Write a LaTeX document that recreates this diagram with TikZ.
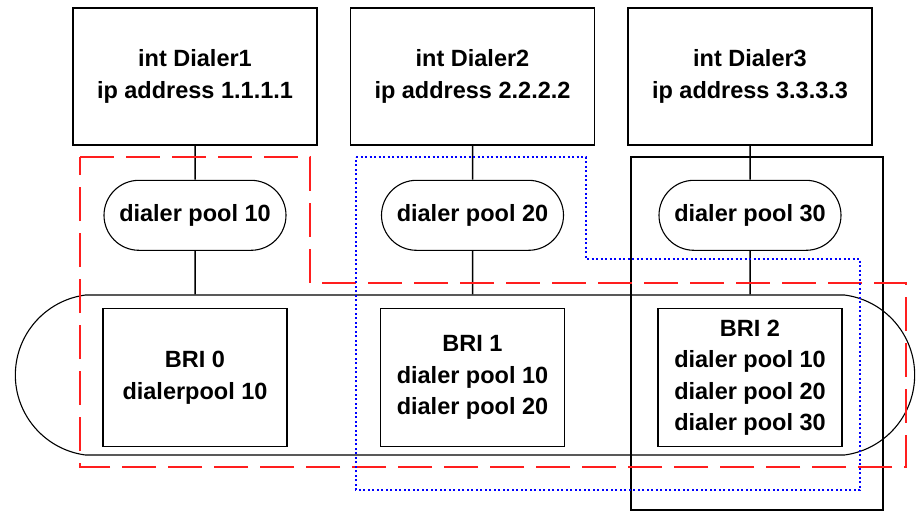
\documentclass[tikz,border=0pt]{standalone}
\usepackage{fontspec}
\setmainfont{Liberation Sans}
\usetikzlibrary{shapes.misc, positioning}
\definecolor{redgroup}{RGB}{255, 30, 30}
\definecolor{bluegroup}{RGB}{0, 0, 255}

\begin{document}
\begin{tikzpicture}[x=1pt, y=-1pt,
    every node/.style={font=\fontsize{23.5}{31.5}\selectfont\bfseries, align=center},
    dialer/.style={draw, line width=1.5pt, minimum width=244pt, minimum height=137pt},
    pool/.style={draw, line width=1.1pt, rounded rectangle, minimum width=186pt, minimum height=70pt, inner sep=2pt},
    bri/.style={draw, line width=1.5pt, minimum width=184pt, minimum height=138pt},
    bus/.style={draw, line width=1.1pt, rounded rectangle, rounded rectangle arc length=165, minimum width=906pt, minimum height=160pt},
    link/.style={line width=1.5pt}]
                    \useasboundingbox (0,0) rectangle (919,512);
                    \node[dialer] (d1) at (195,76.5) {int Dialer1\\ip address 1.1.1.1};
                    \node[dialer, right=32pt of d1] (d2) {int Dialer2\\ip address 2.2.2.2};
                    \node[dialer, right=32pt of d2] (d3) {int Dialer3\\ip address 3.3.3.3};
                    \node[pool, below=34pt of d1] (p1) {dialer pool 10};
                    \node[pool, below=34pt of d2] (p2) {dialer pool 20};
                    \node[pool, below=34pt of d3] (p3) {dialer pool 30};
                    \node[bus] (bus) at (465,375) {};
                    \node[bri, below=57pt of p1] (b1) {BRI 0\\dialerpool 10};
                    \node[bri, below=57pt of p2] (b2) {BRI 1\\dialer pool 10\\dialer pool 20};
                    \node[bri, below=57pt of p3] (b3) {BRI 2\\dialer pool 10\\dialer pool 20\\dialer pool 30};
                    \foreach \i in {1,2,3} {
                        \draw[link] (d\i) -- (p\i);
                        \draw[link] (p\i) -- (p\i |- bus.north);
                    }
                    \draw[link] (631,157) rectangle (883,510);
                    \draw[redgroup, line width=1.6pt, dash pattern=on 34pt off 12pt] (80,157) -- (310,157) -- (310,283) -- (906,283) -- (906,467) -- (80,467) -- cycle;
                    \draw[bluegroup, line width=1.5pt, dash pattern=on 2pt off 2.5pt] (356,157) -- (586,157) -- (586,259) -- (860,259) -- (860,490) -- (356,490) -- cycle;
                \end{tikzpicture}
\end{document}
